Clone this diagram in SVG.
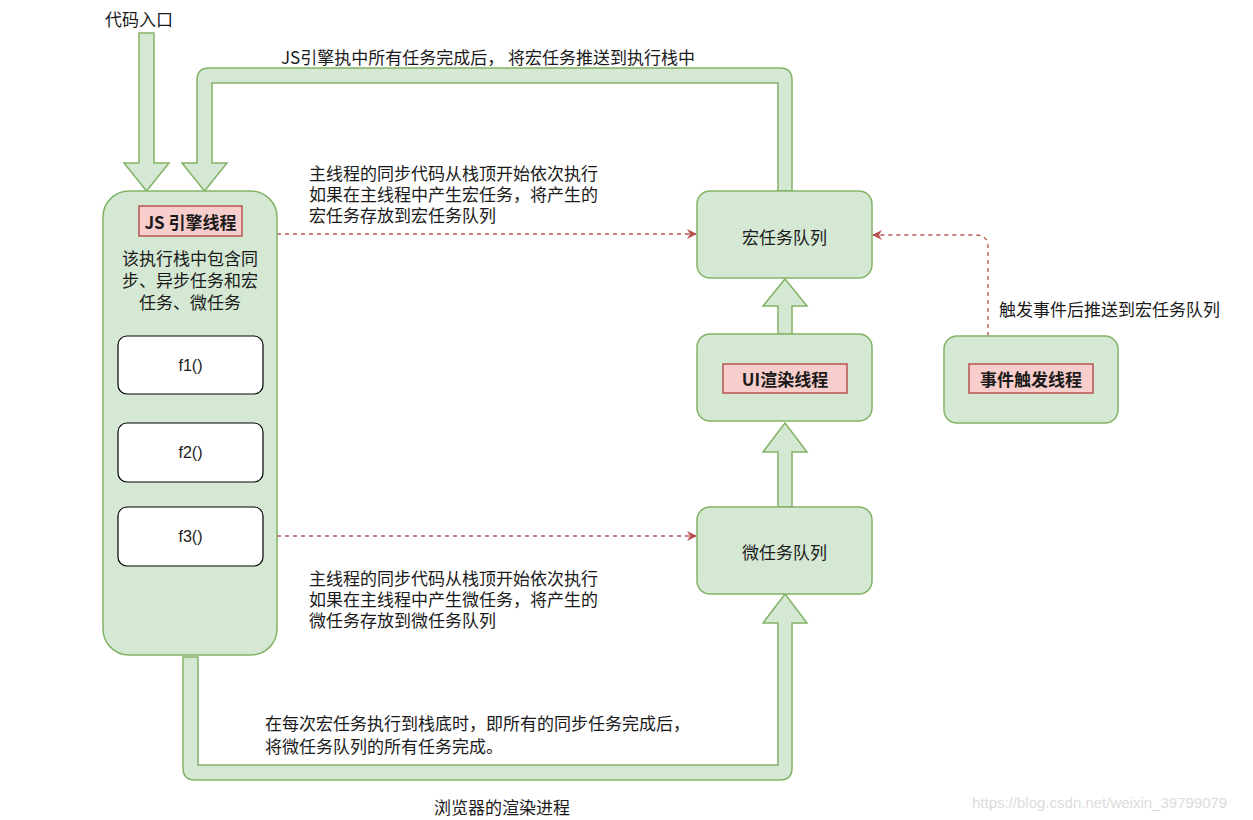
<svg xmlns="http://www.w3.org/2000/svg" width="1253" height="820" viewBox="0 0 1253 820">
<style>
.g{fill:#d5e8d4;stroke:#82b366;stroke-width:1.5}
.p{fill:#f8cecc;stroke:#b85450;stroke-width:1.5}
.w{fill:#ffffff;stroke:#000000;stroke-width:1.2}
.t{font-family:"Noto Sans CJK SC","Noto Sans",sans-serif;font-size:17px;fill:#1a1a1a}
.b{font-weight:bold}
.c{text-anchor:middle;dominant-baseline:central}
.l{dominant-baseline:central}
.f{font-family:"Liberation Sans",Arial,sans-serif;font-size:16px;fill:#1a1a1a;text-anchor:middle;dominant-baseline:central}
.d{fill:none;stroke:#b85450;stroke-width:1.3;stroke-dasharray:4 4}
.s{fill:none;stroke:#b85450;stroke-width:1.3}
</style>
<defs>
<marker id="ah" viewBox="0 0 10 10" refX="9" refY="5" markerWidth="10" markerHeight="10" markerUnits="userSpaceOnUse" orient="auto">
<path d="M0,0 L10,5 L0,10 L3,5 z" fill="#b85450" stroke="none"/>
</marker>
<marker id="ah2" viewBox="0 0 10 10" refX="9" refY="5" markerWidth="11" markerHeight="11" markerUnits="userSpaceOnUse" orient="auto">
<path d="M0,0 L10,5 L0,10 z" fill="#b85450" stroke="none"/>
</marker>
</defs>

<g id="connectors">
<path class="g" d="M139,33 L154,33 L154,163 L169,163 L146.5,191 L124,163 L139,163 Z"/>
<path class="g" d="M792,191 L792,80 Q792,68 780,68 L209,68 Q197,68 197,80 L197,163 L182,163 L204.5,191 L227,163 L212,163 L212,83 L778,83 L778,191 Z"/>
<path class="g" d="M183,657 L183,768 Q183,780 195,780 L780,780 Q792,780 792,768 L792,623 L807,623 L785,594 L763,623 L778,623 L778,765 L198,765 L198,657 Z"/>
<path class="g" d="M778,507 L778,452 L763,452 L785,423 L807,452 L792,452 L792,507 Z"/>
<path class="g" d="M778,334 L778,306 L763,306 L785,279 L807,306 L792,306 L792,334 Z"/>
<path class="d" d="M277,234 L696,234" marker-end="url(#ah)"/>
<path class="d" d="M277,536 L696,536" marker-end="url(#ah)"/>
<path class="d" d="M988,336 L988,247 Q988,235 976,235 L873,235" marker-end="url(#ah)"/>
<path class="s" d="M190,394 L190,422" marker-end="url(#ah2)"/>
<path class="s" d="M190,482 L190,506" marker-end="url(#ah2)"/>
</g>

<g id="js-engine">
<rect class="g" x="103" y="191" width="174" height="464" rx="26"/>
<rect class="p" x="139" y="206" width="103" height="30"/>
<text class="t b c" x="190.5" y="221">JS 引擎线程</text>
<text class="t c" x="190" y="257"><tspan x="190">该执行栈中包含同</tspan><tspan x="190" dy="22">步、异步任务和宏</tspan><tspan x="190" dy="22">任务、微任务</tspan></text>
</g>
<g id="f1"><rect class="w" x="118" y="336" width="145" height="58" rx="9"/><text class="f" x="190.5" y="365">f1()</text></g>
<g id="f2"><rect class="w" x="118" y="423" width="145" height="59" rx="9"/><text class="f" x="190.5" y="452">f2()</text></g>
<g id="f3"><rect class="w" x="118" y="507" width="145" height="59" rx="9"/><text class="f" x="190.5" y="536">f3()</text></g>

<g id="macro-queue">
<rect class="g" x="697" y="191" width="175" height="87" rx="13"/>
<text class="t c" x="784.5" y="236">宏任务队列</text>
</g>
<g id="ui-thread">
<rect class="g" x="697" y="334" width="175" height="87" rx="13"/>
<rect class="p" x="723" y="364" width="124" height="29"/>
<text class="t b c" x="785" y="378.5">UI渲染线程</text>
</g>
<g id="micro-queue">
<rect class="g" x="697" y="507" width="175" height="87" rx="13"/>
<text class="t c" x="784.5" y="551">微任务队列</text>
</g>
<g id="event-thread">
<rect class="g" x="944" y="336" width="174" height="87" rx="13"/>
<rect class="p" x="969" y="364" width="124" height="29"/>
<text class="t b c" x="1031" y="378.5">事件触发线程</text>
</g>

<g id="labels">
<text class="t l" x="105" y="18">代码入口</text>
<text class="t c" x="488" y="56">JS引擎执中所有任务完成后， 将宏任务推送到执行栈中</text>
<text class="t l" x="309" y="172"><tspan x="309">主线程的同步代码从栈顶开始依次执行</tspan><tspan x="309" dy="21">如果在主线程中产生宏任务，将产生的</tspan><tspan x="309" dy="21">宏任务存放到宏任务队列</tspan></text>
<text class="t l" x="999" y="308">触发事件后推送到宏任务队列</text>
<text class="t l" x="309" y="577"><tspan x="309">主线程的同步代码从栈顶开始依次执行</tspan><tspan x="309" dy="21">如果在主线程中产生微任务，将产生的</tspan><tspan x="309" dy="21">微任务存放到微任务队列</tspan></text>
<text class="t l" x="265" y="722"><tspan x="265">在每次宏任务执行到栈底时，即所有的同步任务完成后，</tspan><tspan x="265" dy="23">将微任务队列的所有任务完成。</tspan></text>
<text class="t c" x="502" y="806">浏览器的渲染进程</text>
<text x="972" y="802" font-family="Liberation Sans, Arial, sans-serif" font-size="15" fill="#dcdcdc" dominant-baseline="central">https://blog.csdn.net/weixin_39799079</text>
</g>
</svg>
